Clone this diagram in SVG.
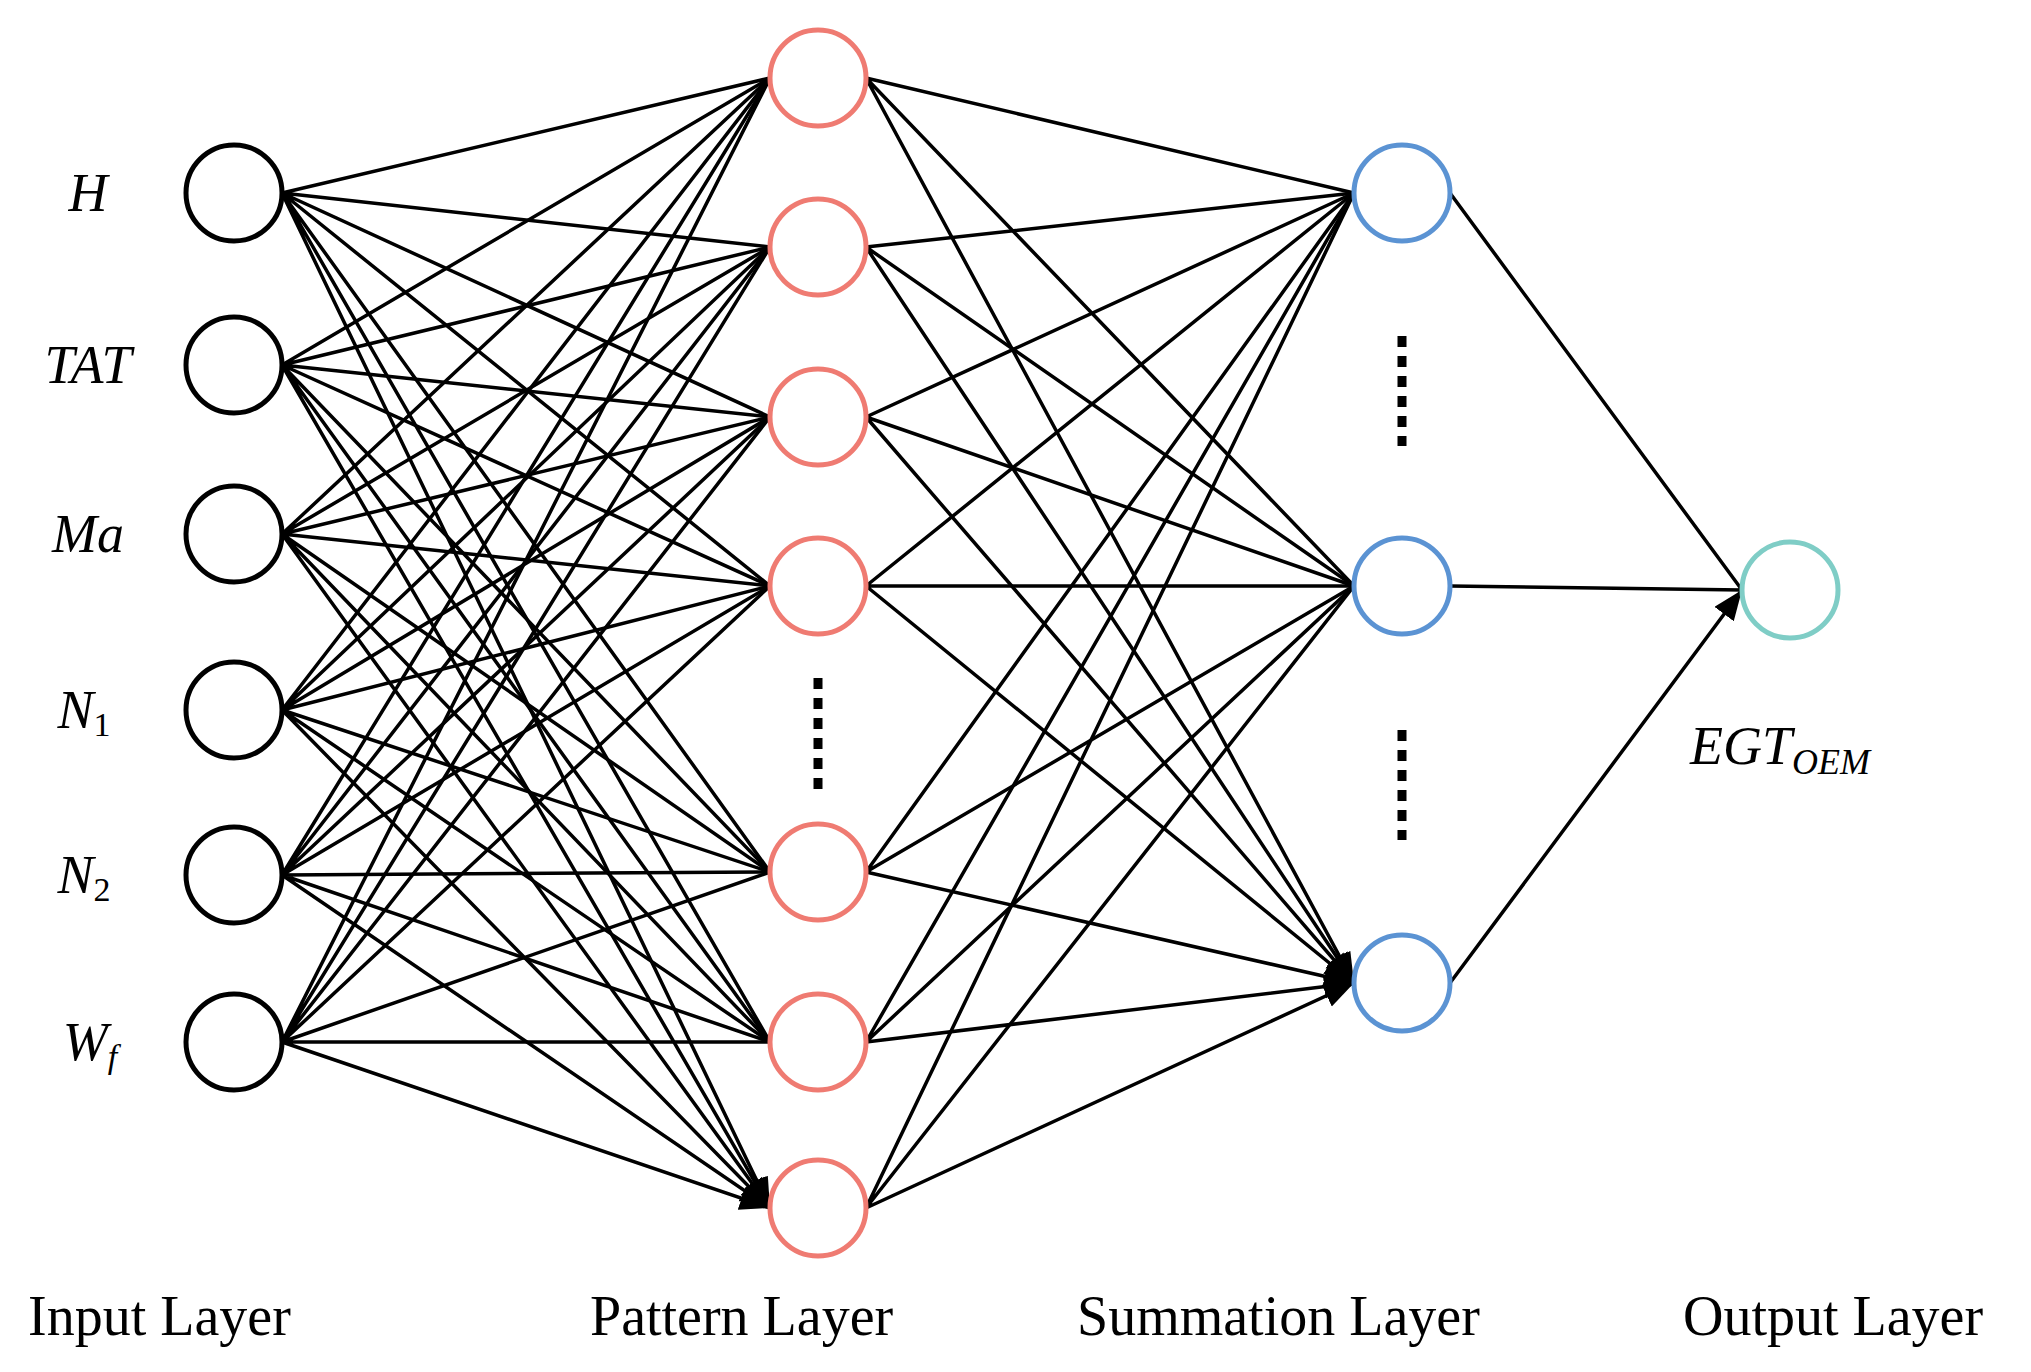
<svg xmlns="http://www.w3.org/2000/svg" width="2031" height="1372" viewBox="0 0 2031 1372">
<style>
.in{fill:none;stroke:#000;stroke-width:5}
.pt{fill:none;stroke:#ef7b72;stroke-width:5}
.sm{fill:none;stroke:#5b93d3;stroke-width:5}
.ou{fill:none;stroke:#7fcdc6;stroke-width:5}
.e{stroke:#000;stroke-width:3.5;fill:none;marker-end:url(#a)}
.lab{font-family:"Liberation Serif",serif;font-style:italic;font-size:54px;text-anchor:middle}
.ly{font-family:"Liberation Serif",serif;font-size:56px}
.dot{stroke:#000;stroke-width:9;stroke-dasharray:11 9}
</style>
<defs><marker id="a" markerUnits="userSpaceOnUse" markerWidth="32" markerHeight="26" refX="30" refY="12" orient="auto"><path d="M0,0 L30,12 L0,24 z" fill="#000"/></marker></defs>
<g id="connectors">
<!-- input to pattern -->
<path class="e" d="M282,193L770,78M282,193L770,247M282,193L770,417M282,193L770,586M282,193L770,872M282,193L770,1042M282,193L770,1208"/>
<path class="e" d="M282,365L770,78M282,365L770,247M282,365L770,417M282,365L770,586M282,365L770,872M282,365L770,1042M282,365L770,1208"/>
<path class="e" d="M282,534L770,78M282,534L770,247M282,534L770,417M282,534L770,586M282,534L770,872M282,534L770,1042M282,534L770,1208"/>
<path class="e" d="M282,710L770,78M282,710L770,247M282,710L770,417M282,710L770,586M282,710L770,872M282,710L770,1042M282,710L770,1208"/>
<path class="e" d="M282,875L770,78M282,875L770,247M282,875L770,417M282,875L770,586M282,875L770,872M282,875L770,1042M282,875L770,1208"/>
<path class="e" d="M282,1042L770,78M282,1042L770,247M282,1042L770,417M282,1042L770,586M282,1042L770,872M282,1042L770,1042M282,1042L770,1208"/>
<!-- pattern to summation -->
<path class="e" d="M866,78L1354,193M866,78L1354,586M866,78L1354,983"/>
<path class="e" d="M866,247L1354,193M866,247L1354,586M866,247L1354,983"/>
<path class="e" d="M866,417L1354,193M866,417L1354,586M866,417L1354,983"/>
<path class="e" d="M866,586L1354,193M866,586L1354,586M866,586L1354,983"/>
<path class="e" d="M866,872L1354,193M866,872L1354,586M866,872L1354,983"/>
<path class="e" d="M866,1042L1354,193M866,1042L1354,586M866,1042L1354,983"/>
<path class="e" d="M866,1208L1354,193M866,1208L1354,586M866,1208L1354,983"/>
<!-- summation to output -->
<path class="e" d="M1450,193L1742,590M1450,586L1742,590M1450,983L1742,590"/>
</g>
<g id="input-nodes">
<g id="in-H"><circle class="in" cx="234" cy="193" r="48"/><text class="lab" x="88" y="211">H</text></g>
<g id="in-TAT"><circle class="in" cx="234" cy="365" r="48"/><text class="lab" x="88" y="383">TAT</text></g>
<g id="in-Ma"><circle class="in" cx="234" cy="534" r="48"/><text class="lab" x="88" y="552">Ma</text></g>
<g id="in-N1"><circle class="in" cx="234" cy="710" r="48"/><text class="lab" x="84" y="728">N<tspan font-style="normal" font-size="34" dy="8">1</tspan></text></g>
<g id="in-N2"><circle class="in" cx="234" cy="875" r="48"/><text class="lab" x="84" y="893">N<tspan font-style="normal" font-size="34" dy="8">2</tspan></text></g>
<g id="in-Wf"><circle class="in" cx="234" cy="1042" r="48"/><text class="lab" x="90" y="1060">W<tspan font-size="34" dy="8">f</tspan></text></g>
</g>
<g id="pattern-nodes">
<circle id="p1" class="pt" cx="818" cy="78" r="48"/>
<circle id="p2" class="pt" cx="818" cy="247" r="48"/>
<circle id="p3" class="pt" cx="818" cy="417" r="48"/>
<circle id="p4" class="pt" cx="818" cy="586" r="48"/>
<circle id="p5" class="pt" cx="818" cy="872" r="48"/>
<circle id="p6" class="pt" cx="818" cy="1042" r="48"/>
<circle id="p7" class="pt" cx="818" cy="1208" r="48"/>
<line class="dot" x1="818" y1="678" x2="818" y2="792"/>
</g>
<g id="summation-nodes">
<circle id="s1" class="sm" cx="1402" cy="193" r="48"/>
<circle id="s2" class="sm" cx="1402" cy="586" r="48"/>
<circle id="s3" class="sm" cx="1402" cy="983" r="48"/>
<line class="dot" x1="1402" y1="336" x2="1402" y2="446"/>
<line class="dot" x1="1402" y1="730" x2="1402" y2="840"/>
</g>
<g id="output-node">
<circle class="ou" cx="1790" cy="590" r="48"/>
<text class="lab" x="1690" y="764" text-anchor="start" style="text-anchor:start">EGT<tspan font-size="36" dy="10">OEM</tspan></text>
</g>
<g id="layer-labels">
<text class="ly" x="28" y="1335">Input Layer</text>
<text class="ly" x="590" y="1335">Pattern Layer</text>
<text class="ly" x="1077" y="1335">Summation Layer</text>
<text class="ly" x="1683" y="1335">Output Layer</text>
</g>
</svg>
